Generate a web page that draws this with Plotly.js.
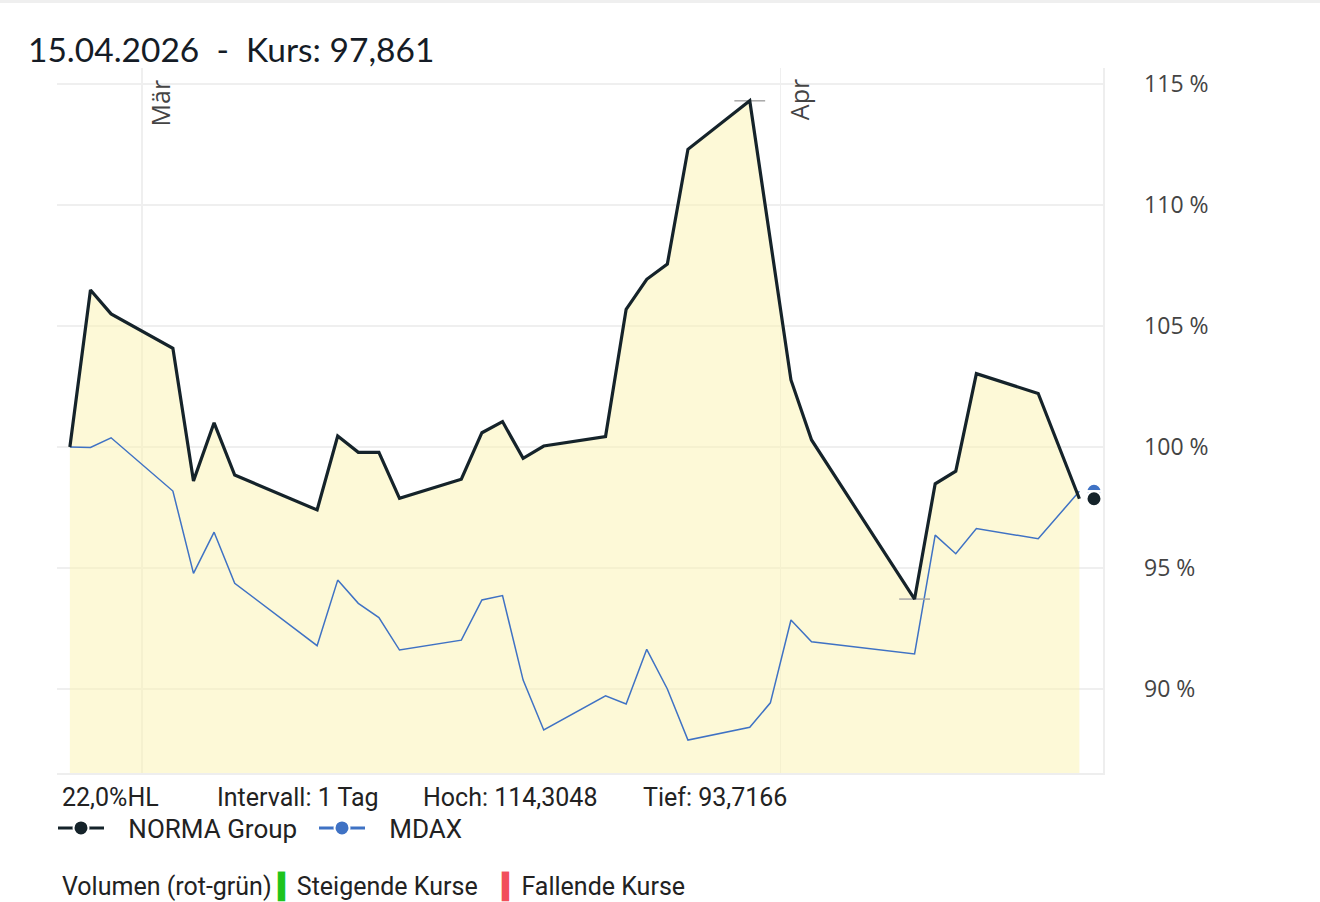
<!DOCTYPE html>
<html>
<head>
<meta charset="utf-8">
<script src="https://cdn.plot.ly/plotly-3.0.1.min.js"></script>
<style>
  body { margin: 0; background: #fff; }
  #chart { width: 1320px; height: 899px; border-top: 3px solid #efefef; }
</style>
</head>
<body>
<div id="chart"></div>
<script>
// trading days shown in the chart
var dates = ["2026-02-25", "2026-02-26", "2026-02-27", "2026-03-02", "2026-03-03", "2026-03-04",
    "2026-03-05", "2026-03-09", "2026-03-10", "2026-03-11", "2026-03-12", "2026-03-13",
    "2026-03-16", "2026-03-17", "2026-03-18", "2026-03-19", "2026-03-20", "2026-03-23",
    "2026-03-24", "2026-03-25", "2026-03-26", "2026-03-27", "2026-03-30", "2026-03-31",
    "2026-04-01", "2026-04-02", "2026-04-07", "2026-04-08", "2026-04-09", "2026-04-10",
    "2026-04-13", "2026-04-15"];

// performance in % (start = 100)
var norma = [100.0, 106.49, 105.50, 104.08, 98.60, 101.0,
    98.84, 97.40, 100.45, 99.78, 99.78, 97.88,
    98.67, 100.59, 101.05, 99.53, 100.04, 100.43,
    105.69, 106.93, 107.56, 112.30, 114.3048, 108.56,
    102.77, 100.29, 93.7166, 98.48, 99.00, 103.03,
    102.21, 97.861];

var mdax = [100.0, 99.98, 100.38, 98.18, 94.78, 96.48,
    94.37, 91.79, 94.50, 93.54, 92.95, 91.61,
    92.02, 93.68, 93.86, 90.37, 88.31, 89.72,
    89.38, 91.64, 90.0, 87.89, 88.42, 89.43,
    92.85, 91.95, 91.45, 96.36, 95.59, 96.63,
    96.21, 98.17];

var monthTicks = ["2026-03-01", "2026-04-01"];
var monthLabels = ["Mär", "Apr"];
var yTicks = [90, 95, 100, 105, 110, 115];

var normaName = "NORMA Group";
var mdaxName = "MDAX";
var intervalText = "Intervall: 1 Tag";

// daily points sit at mid-day
function noon(d) { return d + " 12:00"; }
function shifted(d, hours) {
    var t = Date.UTC(+d.slice(0, 4), +d.slice(5, 7) - 1, +d.slice(8, 10), 12) + hours * 3600e3;
    return new Date(t).toISOString().slice(0, 16).replace("T", " ");
}
function de(v, n) { return v.toFixed(n).replace(".", ","); }

var x = dates.map(noon);
var last = dates.length - 1;

var hi = Math.max.apply(null, norma);
var lo = Math.min.apply(null, norma);
var hiIdx = norma.indexOf(hi);
var loIdx = norma.indexOf(lo);
var hl = (hi - lo) / lo * 100;

var dark = "#15232a";
var blue = "#3f72c4";
var sans = "Roboto, sans-serif";
var pad = "\u00a0\u00a0\u00a0";

var startX = shifted(dates[0], -21);
var endX = shifted(dates[last], 17);

var fillTrace = {
    x: x, y: norma, type: "scatter", mode: "lines",
    line: { width: 0 }, fill: "tozeroy", fillcolor: "rgba(251,243,175,0.5)",
    hoverinfo: "skip", showlegend: false
};

var mdaxLine = {
    x: x, y: mdax, type: "scatter", mode: "lines",
    line: { color: blue, width: 1.5 }, showlegend: false
};

var hiLo = {
    x: [x[hiIdx], x[loIdx]], y: [hi, lo], type: "scatter", mode: "markers",
    marker: { symbol: "line-ew", size: 22, line: { color: "#a8a8a8", width: 1.5 } },
    showlegend: false, cliponaxis: false
};

var normaLine = {
    x: x, y: norma, type: "scatter", mode: "lines",
    line: { color: dark, width: 3.2 }, showlegend: false
};

// start / end dots just outside the series, with a gap so no line is drawn between them
var mdaxEnds = {
    x: [startX, x[Math.floor(last / 2)], endX],
    y: [mdax[0], null, mdax[last]],
    type: "scatter", mode: "lines+markers", name: pad + mdaxName, legendrank: 2,
    connectgaps: false, cliponaxis: false,
    line: { color: blue, width: 3 },
    marker: { symbol: "circle", size: 15, color: blue, line: { color: "#fff", width: 2 } }
};

// white stripe through the MDAX dot
var mdaxStripe = {
    x: [endX], y: [mdax[last]], type: "scatter", mode: "markers",
    marker: { symbol: "line-ew", size: 15, line: { color: "#fff", width: 2.5 } },
    showlegend: false, cliponaxis: false
};

var normaEnds = {
    x: [startX, x[Math.floor(last / 2)], endX],
    y: [norma[0], null, norma[last]],
    type: "scatter", mode: "lines+markers", name: pad + normaName, legendrank: 1,
    connectgaps: false, cliponaxis: false,
    line: { color: dark, width: 3 },
    marker: { symbol: "circle", size: 15, color: dark, line: { color: "#fff", width: 2 } }
};

var plotH = 899 - 65 - 129;
var plotW = 1320 - 57 - 217;

var annotations = monthTicks.map(function (m, i) {
    return {
        x: m, xref: "x", y: 1, yref: "paper", text: monthLabels[i],
        textangle: -90, xanchor: "left", yanchor: "top", xshift: -1, yshift: -9,
        showarrow: false, font: { family: "Open Sans, sans-serif", size: 25, color: "#444" }
    };
});

var infoTexts = [
    de(hl, 1) + "%HL",
    intervalText,
    "Hoch: " + de(hi, 4),
    "Tief: " + de(lo, 4)
];
var infoX = [60, 215, 421, 641];
infoTexts.forEach(function (t, i) {
    annotations.push({
        x: (infoX[i] - 57) / plotW, xref: "paper", y: -(794 - 770) / plotH, yref: "paper",
        xanchor: "left", yanchor: "middle", showarrow: false, text: t,
        font: { family: sans, size: 25, color: "#222" }
    });
});

annotations.push({
    x: (60 - 57) / plotW, xref: "paper", y: -(883 - 770) / plotH, yref: "paper",
    xanchor: "left", yanchor: "middle", showarrow: false,
    text: "Volumen (rot-grün) <span style='color:#1ec41e'>▍</span>Steigende Kurse    <span style='color:#f24f5b'>▍</span>Fallende Kurse",
    font: { family: sans, size: 25, color: "#222" }
});

var layout = {
    width: 1320, height: 899,
    margin: { l: 57, r: 217, t: 65, b: 129 },
    paper_bgcolor: "#fff", plot_bgcolor: "#fff",
    title: {
        text: dates[last].split("-").reverse().join(".") + "  -  Kurs: " + de(norma[last], 3),
        x: 28 / 1320, xref: "container", xanchor: "left",
        y: 1 - 47 / 899, yref: "container", yanchor: "middle",
        font: { family: "Lato, sans-serif", size: 33.5, color: "#151c26" }
    },
    xaxis: {
        type: "date",
        range: ["2026-02-24 21:00", "2026-04-16 15:30"],
        tickvals: monthTicks, showticklabels: false,
        showgrid: true, gridcolor: "#efefef", gridwidth: 1.5,
        showline: true, linecolor: "#eeeeee", linewidth: 1.5,
        zeroline: false, fixedrange: true
    },
    yaxis: {
        side: "right",
        range: [86.53, 115.66],
        tickvals: yTicks, ticktext: yTicks.map(function (v) { return v + " %"; }),
        ticklabelstandoff: 35,
        showgrid: true, gridcolor: "#efefef", gridwidth: 1.5,
        showline: true, linecolor: "#eeeeee", linewidth: 1.5,
        zeroline: false, fixedrange: true,
        tickfont: { family: "Open Sans, sans-serif", size: 23, color: "#444" }
    },
    showlegend: true,
    legend: {
        orientation: "h", x: -4 / plotW, xanchor: "left", y: -(825 - 770) / plotH, yanchor: "middle",
        font: { family: sans, size: 26, color: "#222" },
        itemwidth: 46, entrywidth: 200, entrywidthmode: "pixels", bgcolor: "rgba(0,0,0,0)"
    },
    annotations: annotations
};

Plotly.newPlot("chart", [fillTrace, mdaxLine, hiLo, normaLine, mdaxEnds, mdaxStripe, normaEnds], layout,
    { displayModeBar: false, staticPlot: true });
</script>
</body>
</html>
